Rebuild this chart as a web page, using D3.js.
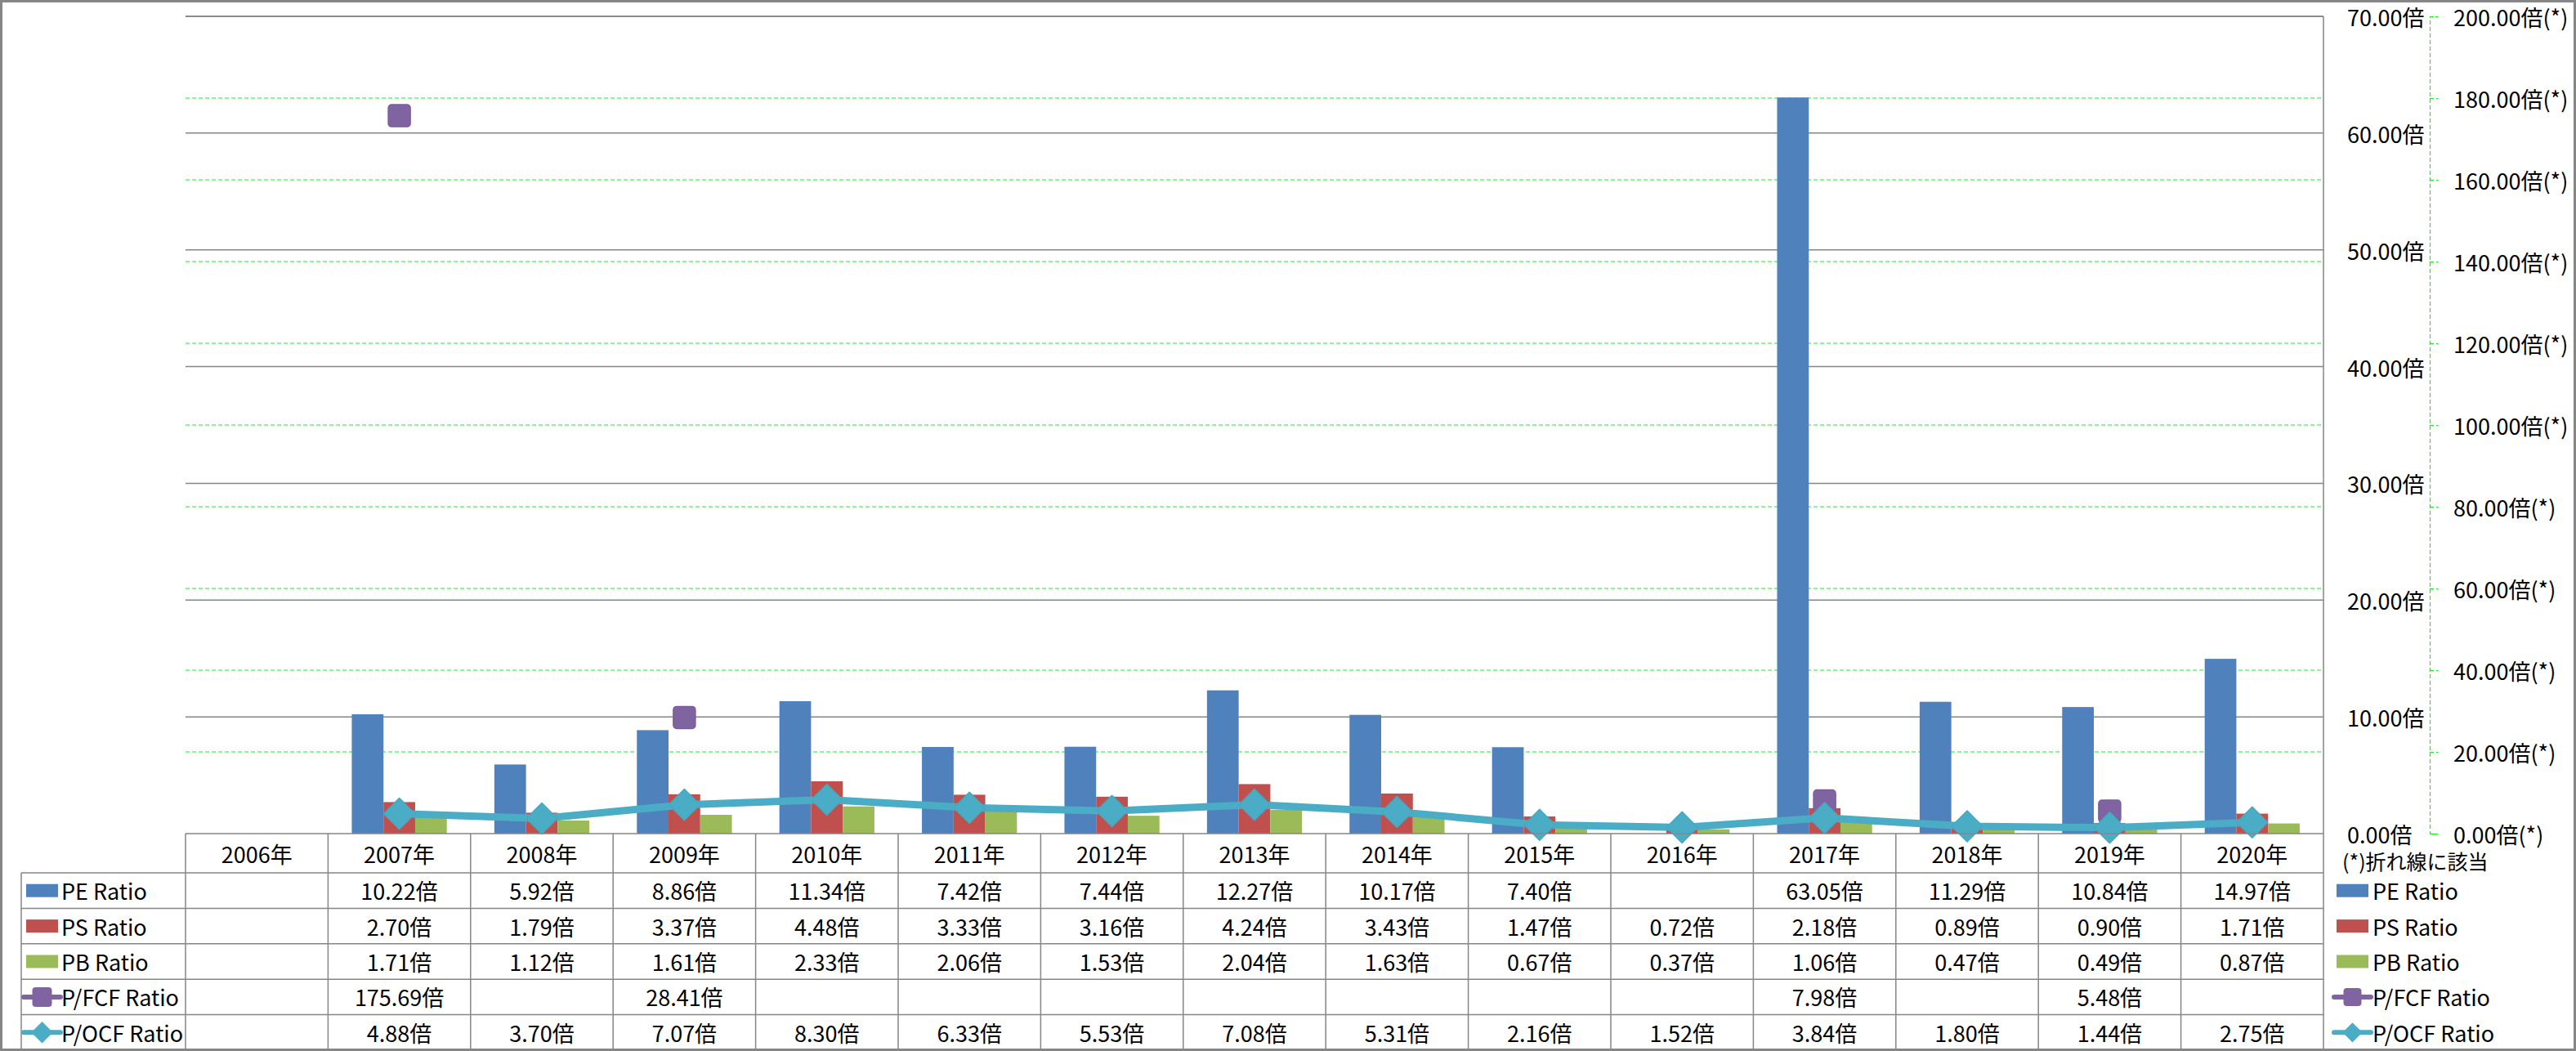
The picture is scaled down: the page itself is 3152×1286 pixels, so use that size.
<!DOCTYPE html>
<html><head><meta charset="utf-8">
<script src="https://cdn.jsdelivr.net/npm/d3@7"></script>
<style>
body{margin:0;background:#fff;}
svg{display:block;}
text{font-family:"Noto Sans CJK JP","Noto Sans",sans-serif;fill:#000;}
</style>
</head><body>
<svg id="chart" width="3152" height="1286"></svg>
<script>
// ---------- DATA ----------
const years = ["2006年","2007年","2008年","2009年","2010年","2011年","2012年","2013年","2014年","2015年","2016年","2017年","2018年","2019年","2020年"];
const peRatio   = [null,10.22,5.92,8.86,11.34,7.42,7.44,12.27,10.17,7.40,null,63.05,11.29,10.84,14.97];
const psRatio   = [null,2.70,1.79,3.37,4.48,3.33,3.16,4.24,3.43,1.47,0.72,2.18,0.89,0.90,1.71];
const pbRatio   = [null,1.71,1.12,1.61,2.33,2.06,1.53,2.04,1.63,0.67,0.37,1.06,0.47,0.49,0.87];
const pfcfRatio = [null,175.69,null,28.41,null,null,null,null,null,null,null,7.98,null,5.48,null];
const pocfRatio = [null,4.88,3.70,7.07,8.30,6.33,5.53,7.08,5.31,2.16,1.52,3.84,1.80,1.44,2.75];
const leftTicks  = [0,10,20,30,40,50,60,70];
const rightTicks = [0,20,40,60,80,100,120,140,160,180,200];
const seriesNames = ["PE Ratio","PS Ratio","PB Ratio","P/FCF Ratio","P/OCF Ratio"];
const noteText = "(*)折れ線に該当";

// ---------- STYLE / LAYOUT ----------
const colors = ["#4F81BD","#C0504D","#9BBB59","#8064A2","#4BACC6"];
const gridGray = "#868686", green = "#00FF00";
const W = 3152, H = 1286;
const plotL = 227, plotR = 2843, plotT = 20, plotB = 1020;
const tableLeft = 26, headerH = 48, rowH = 43.4;
const fs = 27;

const svg = d3.select("#chart");
svg.append("rect").attr("width",W).attr("height",H).attr("fill","#fff");

const x = d3.scaleBand().domain(years).range([plotL, plotR]).padding(0);
const bw = x.bandwidth();
const groupW = bw * 2/3, groupOff = (bw - groupW)/2;
const xs = d3.scaleBand().domain([0,1,2]).range([groupOff, groupOff+groupW]).padding(0);
const yL = d3.scaleLinear().domain([0,70]).range([plotB, plotT]);
const yR = d3.scaleLinear().domain([0,200]).range([plotB, plotT]);

// gridlines (green dashed for secondary, gray solid for primary)
svg.append("g").selectAll("line").data(rightTicks.filter(d=>d>0)).join("line")
  .attr("x1",plotL).attr("x2",plotR).attr("y1",d=>yR(d)).attr("y2",d=>yR(d))
  .attr("stroke",green).attr("stroke-width",1.2).attr("stroke-dasharray","5,3");
svg.append("g").selectAll("line").data(leftTicks.filter(d=>d>0)).join("line")
  .attr("x1",plotL).attr("x2",plotR).attr("y1",d=>yL(d)).attr("y2",d=>yL(d))
  .attr("stroke",gridGray).attr("stroke-width",1.5);

// bars
const barSeries = [peRatio, psRatio, pbRatio];
barSeries.forEach((arr, si) => {
  svg.append("g").selectAll("rect").data(years.map((y,i)=>({y, v:arr[i]})).filter(d=>d.v!=null)).join("rect")
    .attr("x", d => x(d.y) + xs(si))
    .attr("width", xs.bandwidth())
    .attr("y", d => yL(d.v))
    .attr("height", d => plotB - yL(d.v))
    .attr("fill", colors[si]);
});

// P/FCF line + markers
const cx = y => x(y) + bw/2;
const lineR = d3.line().defined(d=>d.v!=null).x(d=>cx(d.y)).y(d=>yR(d.v));
const fcfData = years.map((y,i)=>({y, v:pfcfRatio[i]}));
svg.append("path").datum(fcfData).attr("d", lineR).attr("fill","none")
  .attr("stroke",colors[3]).attr("stroke-width",6).attr("stroke-linecap","butt");
const sq = 27;
svg.append("g").selectAll("rect").data(fcfData.filter(d=>d.v!=null)).join("rect")
  .attr("x", d=>cx(d.y)-sq/2).attr("y", d=>yR(d.v)-sq/2)
  .attr("width",sq).attr("height",sq).attr("rx",4)
  .attr("fill",colors[3]).attr("stroke","#7A5E9C").attr("stroke-width",1.5);

// P/OCF line + markers
const ocfData = years.map((y,i)=>({y, v:pocfRatio[i]}));
svg.append("path").datum(ocfData).attr("d", lineR).attr("fill","none")
  .attr("stroke",colors[4]).attr("stroke-width",9).attr("stroke-linejoin","round");
const dm = 19;
const diamond = s => `M0,${-s}L${s},0L0,${s}L${-s},0Z`;
svg.append("g").selectAll("path").data(ocfData.filter(d=>d.v!=null)).join("path")
  .attr("d", diamond(dm))
  .attr("transform", d=>`translate(${cx(d.y)},${yR(d.v)})`)
  .attr("fill",colors[4]).attr("stroke","#46A8C2").attr("stroke-width",1.5).attr("stroke-linejoin","round");

// plot frame (top + right)
svg.append("line").attr("x1",plotL).attr("x2",plotR).attr("y1",plotT).attr("y2",plotT)
  .attr("stroke",gridGray).attr("stroke-width",1.5);

// axes on the right
const axL = d3.axisRight(yL).tickValues(leftTicks).tickSize(0).tickPadding(0)
  .tickFormat(d=>d.toFixed(2)+"倍");
const gL = svg.append("g").attr("transform",`translate(2872,0)`).call(axL);
gL.select(".domain").remove();
gL.selectAll("text").attr("font-size",fs).attr("x",0).attr("dy",null).attr("dominant-baseline","central")
  .style("font-family",'"Noto Sans CJK JP",sans-serif').attr("fill","#000");

const axR = d3.axisRight(yR).tickValues(rightTicks).tickSize(10).tickSizeOuter(10).tickPadding(19)
  .tickFormat(d=>d.toFixed(2)+"倍(*)");
const gR = svg.append("g").attr("transform",`translate(2973,0)`).call(axR);
gR.select(".domain").attr("stroke",green).attr("stroke-width",1.2).attr("stroke-dasharray","5,3");
gR.selectAll(".tick line").attr("stroke",green).attr("stroke-width",1.2).attr("stroke-dasharray","5,3");
gR.selectAll("text").attr("font-size",fs).attr("dy",null).attr("dominant-baseline","central")
  .style("font-family",'"Noto Sans CJK JP",sans-serif').attr("fill","#000");

// note
svg.append("text").attr("x",2866).attr("y",1053).attr("font-size",25)
  .attr("dominant-baseline","central").text(noteText);

// ---------- DATA TABLE ----------
const rowTop = i => plotB + headerH + i*rowH;   // i = 0..5
const tbl = svg.append("g");
// horizontal lines
for (let i=0;i<=5;i++){
  tbl.append("line").attr("x1", tableLeft).attr("x2", plotR)
    .attr("y1", rowTop(i)).attr("y2", rowTop(i)).attr("stroke",gridGray).attr("stroke-width",1.5);
}
tbl.append("line").attr("x1",plotL).attr("x2",plotR).attr("y1",plotB).attr("y2",plotB)
  .attr("stroke",gridGray).attr("stroke-width",1.5);
// vertical lines
years.forEach(y=>{
  tbl.append("line").attr("x1",x(y)).attr("x2",x(y)).attr("y1",plotB).attr("y2",rowTop(5))
    .attr("stroke",gridGray).attr("stroke-width",1.5);
});
tbl.append("line").attr("x1",plotR).attr("x2",plotR).attr("y1",plotT).attr("y2",rowTop(5))
  .attr("stroke",gridGray).attr("stroke-width",1.5);
tbl.append("line").attr("x1",tableLeft).attr("x2",tableLeft).attr("y1",rowTop(0)).attr("y2",rowTop(5))
  .attr("stroke",gridGray).attr("stroke-width",1.5);

// header
tbl.append("g").selectAll("text").data(years).join("text")
  .attr("x", d=>cx(d)).attr("y", plotB + headerH/2).attr("text-anchor","middle")
  .attr("dominant-baseline","central").attr("font-size",fs).text(d=>d);

// values
const allSeries = [peRatio, psRatio, pbRatio, pfcfRatio, pocfRatio];
allSeries.forEach((arr, si)=>{
  tbl.append("g").selectAll("text").data(years.map((y,i)=>({y,v:arr[i]})).filter(d=>d.v!=null)).join("text")
    .attr("x", d=>cx(d.y)).attr("y", rowTop(si)+rowH/2).attr("text-anchor","middle")
    .attr("dominant-baseline","central").attr("font-size",fs).text(d=>d.v.toFixed(2)+"倍");
});

// legend keys (table + right legend)
function legendKey(g, si, kx, ky, mk){
  if (si < 3) {
    g.append("rect").attr("x",kx).attr("y",ky-8).attr("width",39).attr("height",16).attr("fill",colors[si]);
  } else {
    g.append("line").attr("x1",kx-3).attr("x2",kx+42).attr("y1",ky).attr("y2",ky)
      .attr("stroke",colors[si]).attr("stroke-width",6).attr("stroke-linecap","round");
    if (si===3) {
      g.append("rect").attr("x",kx+19.5-mk/2).attr("y",ky-mk/2).attr("width",mk).attr("height",mk).attr("rx",4)
        .attr("fill",colors[3]);
    } else {
      g.append("path").attr("d",diamond(mk*0.55)).attr("transform",`translate(${kx+19.5},${ky})`).attr("fill",colors[4]);
    }
  }
}
seriesNames.forEach((name, si)=>{
  const cy = rowTop(si)+rowH/2;
  legendKey(tbl, si, 32, cy, 24);
  tbl.append("text").attr("x",75).attr("y",cy).attr("dominant-baseline","central").attr("font-size",fs).text(name);
  legendKey(svg, si, 2859, cy, 22);
  svg.append("text").attr("x",2903).attr("y",cy).attr("dominant-baseline","central").attr("font-size",fs).text(name);
});

// outer frame
svg.append("rect").attr("x",1.5).attr("y",1.5).attr("width",W-3).attr("height",H-3)
  .attr("fill","none").attr("stroke",gridGray).attr("stroke-width",3);
</script>
</body></html>
